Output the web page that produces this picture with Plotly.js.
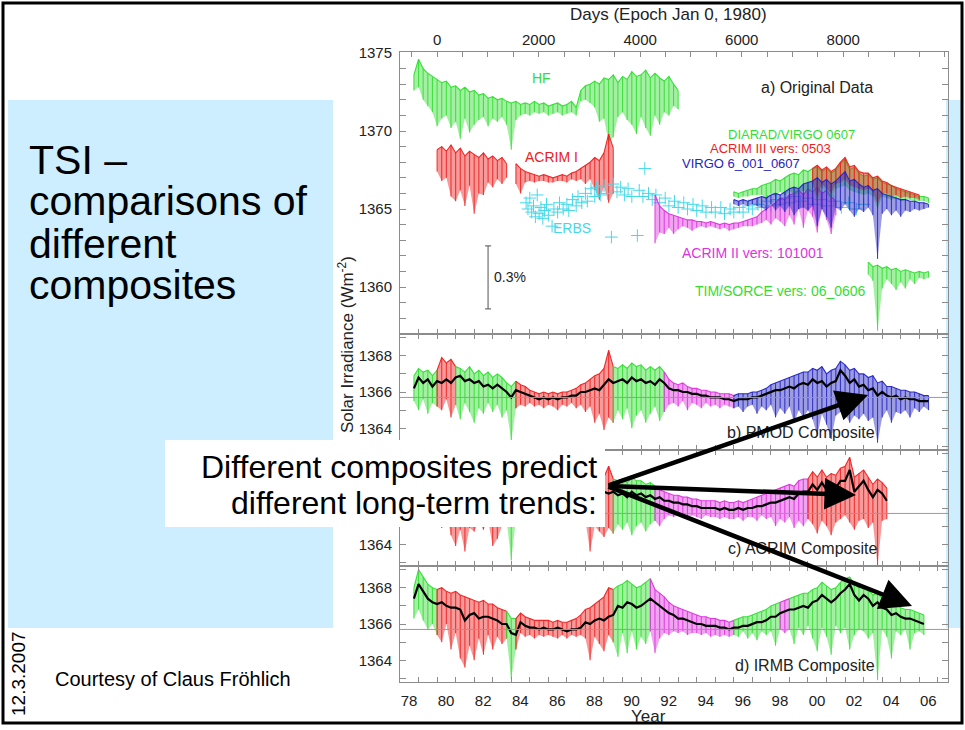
<!DOCTYPE html>
<html><head><meta charset="utf-8">
<script src="https://cdn.plot.ly/plotly-3.0.1.min.js"></script>
<style>html,body{margin:0;padding:0;background:#fff;} #chart{width:965px;height:730px;}</style>
</head><body><div id="chart"></div>
<script>
// ---------------- DATA ----------------
// time grid (fractional years), quarter-year steps
const YEARS = [1978.75,
 1979,1979.25,1979.5,1979.75, 1980,1980.25,1980.5,1980.75, 1981,1981.25,1981.5,1981.75,
 1982,1982.25,1982.5,1982.75, 1983,1983.25,1983.5,1983.75, 1984,1984.25,1984.5,1984.75,
 1985,1985.25,1985.5,1985.75, 1986,1986.25,1986.5,1986.75, 1987,1987.25,1987.5,1987.75,
 1988,1988.25,1988.5,1988.75, 1989,1989.25,1989.5,1989.75, 1990,1990.25,1990.5,1990.75,
 1991,1991.25,1991.5,1991.75, 1992,1992.25,1992.5,1992.75, 1993,1993.25,1993.5,1993.75,
 1994,1994.25,1994.5,1994.75, 1995,1995.25,1995.5,1995.75, 1996,1996.25,1996.5,1996.75,
 1997,1997.25,1997.5,1997.75, 1998,1998.25,1998.5,1998.75, 1999,1999.25,1999.5,1999.75,
 2000,2000.25,2000.5,2000.75, 2001,2001.25,2001.5,2001.75, 2002,2002.25,2002.5,2002.75,
 2003,2003.25,2003.5,2003.75, 2004,2004.25,2004.5,2004.75, 2005,2005.25,2005.5,2005.75,
 2006,2006.25,2006.5];

// tick labels
const YEAR_TICKS = [1978,1979,1980,1981,1982,1983,1984,1985,1986,1987,1988,1989,1990,1991,1992,1993,1994,1995,1996,1997,1998,1999,2000,2001,2002,2003,2004,2005,2006,2007];
const YEAR_LABELS = ['78','','80','','82','','84','','86','','88','','90','','92','','94','','96','','98','','00','','02','','04','','06',''];
const DAY_TICKS = [-500,0,500,1000,1500,2000,2500,3000,3500,4000,4500,5000,5500,6000,6500,7000,7500,8000,8500,9000,9500,10000];
const DAY_LABELS = ['','0','','','','2000','','','','4000','','','','6000','','','','8000','','','',''];
const A_TICKS = [1357,1358,1359,1360,1361,1362,1363,1364,1365,1366,1367,1368,1369,1370,1371,1372,1373,1374,1375];
const A_LABELS = ['','','','1360','','','','','1365','','','','','1370','','','','','1375'];
const C_TICKS = [1363,1364,1365,1366,1367,1368,1369];
const C_LABELS = ['','1364','','1366','','1368',''];
const C_LABELS_HIDDEN = ['','1364','','','','',''];   // panel c: upper labels are covered by the text box

// ---- panel a: original data (upper envelope / lower envelope) ----
const HF_START = 1978.75;
const HF_HI = [1373.6, 1374.6,1374.0,1373.7,1373.5, 1373.3,1373.1,1373.2,1372.8, 1372.9,1372.6,1372.8,1372.5,
 1372.6,1372.3,1372.4,1372.1, 1372.2,1372.0,1372.1,1371.9, 1371.8,1371.9,1371.7,1371.8, 1371.7,1371.9,1371.7,1371.8,
 1371.6,1371.7,1371.8,1371.6, 1371.7,1371.9,1371.5,1372.6, 1372.9,1373.0,1373.2,1373.0, 1373.4,1373.3,1373.6,1373.1,
 1373.5,1373.3,1373.8,1373.5, 1373.6,1373.9,1373.4,1373.7, 1373.4,1373.2,1373.5,1373.0, 1372.6];
const HF_LO = [1372.6, 1372.8,1372.0,1371.6,1371.2, 1370.3,1370.8,1371.0,1370.2, 1370.6,1369.5,1370.8,1369.9,
 1370.4,1370.7,1370.9,1370.3, 1370.8,1370.6,1370.9,1370.4, 1368.8,1370.7,1371.0,1371.1, 1371.0,1371.2,1371.1,1371.2,
 1371.0,1371.1,1371.2,1371.0, 1371.1,1371.2,1371.0,1371.9, 1372.0,1371.8,1371.5,1370.6, 1370.8,1369.3,1369.6,1370.9,
 1371.2,1370.7,1370.4,1369.8, 1370.9,1370.2,1369.7,1371.0, 1370.4,1371.2,1371.0,1371.6, 1371.4];

const ACRIM1A_START = 1980.0;
const ACRIM1A_HI = [1368.8,1369.0,1368.7,1369.1, 1368.6,1368.9,1368.4,1368.7, 1368.5,1368.3,1368.6,1368.2, 1368.4,1368.1,1368.3,1367.9];
const ACRIM1A_LO = [1367.4,1366.8,1367.0,1365.8, 1365.5,1366.2,1365.2,1366.5, 1364.7,1366.0,1365.9,1366.7, 1366.4,1366.9,1366.6,1367.0];
const ACRIM1B_START = 1984.25;
const ACRIM1B_HI = [1367.9,1367.6,1367.4, 1367.3,1367.2,1367.1,1367.2, 1367.1,1367.0,1367.1,1367.2, 1367.1,1367.3,1367.4,1367.6, 1367.8,1368.0,1368.3,1368.1, 1368.6,1369.8,1368.9];
const ACRIM1B_LO = [1366.6,1366.0,1366.7, 1366.8,1366.7,1366.8,1366.8, 1366.7,1366.7,1366.8,1366.8, 1366.7,1366.9,1366.8,1366.9, 1366.6,1366.9,1366.2,1365.6, 1366.4,1365.4,1366.0];

const ERBS_YEAR = [1984.8,1984.9,1985.0,1985.1,1985.2,1985.3,1985.4,1985.5,1985.6,1985.7,1985.8,1985.9,1986.0,1986.2,1986.3,1986.5,1986.6,1986.8,
 1987.0,1987.1,1987.3,1987.5,1987.6,1987.8,1988.0,1988.1,1988.3,1988.5,1988.6,1988.8,1989.0,1989.2,1989.4,1989.5,1989.7,1989.9,
 1990.1,1990.3,1990.5,1990.8,1990.9,1991.1,1991.2,1991.4,1991.6,1991.8,1992.0,1992.3,1992.5,1992.8,1993.0,1993.3,1993.5,1993.8,
 1994.0,1994.3,1994.5,1994.8,1995.0,1995.3,1995.5,1995.8,1996.0,1996.3,1996.5,1996.8,1997.0,1997.3,1997.5,1997.8,1998.0,1998.3,
 1998.5,1998.8,1999.0,1999.3,1999.6,2000.0,2000.3,2000.7,2001.0,2001.4,2001.8,2002.2,2002.6,2003.0];
const ERBS_VAL = [1365.4,1365.0,1365.7,1364.8,1365.2,1364.5,1365.9,1364.7,1365.1,1364.4,1364.9,1365.3,1364.6,1363.9,1365.0,1364.8,1365.4,1365.0,
 1365.3,1364.9,1365.6,1365.2,1365.8,1365.4,1366.0,1365.5,1366.3,1365.8,1366.4,1365.9,1366.5,1366.0,1363.2,1366.6,1366.1,1366.4,
 1365.9,1366.3,1365.8,1363.3,1366.2,1365.8,1367.6,1366.0,1365.6,1365.9,1365.4,1365.7,1365.2,1365.5,1365.1,1365.4,1365.0,1365.3,
 1364.9,1365.2,1364.8,1365.1,1364.8,1365.1,1364.7,1365.0,1364.8,1365.1,1364.8,1365.2,1365.0,1365.3,1365.1,1365.5,1365.2,1365.6,
 1365.3,1365.7,1365.4,1365.8,1365.5,1365.7,1365.3,1365.6,1365.2,1365.5,1365.1,1365.4,1365.0,1365.3];

const ACRIM2_START = 1991.75;
const ACRIM2_HI = [1365.9, 1365.2,1364.9,1364.7,1364.6, 1364.5,1364.4,1364.3,1364.3, 1364.2,1364.2,1364.1,1364.2, 1364.1,1364.0,1364.1,1364.0,
 1364.1,1364.1,1364.2,1364.3, 1364.4,1364.5,1364.8,1365.0, 1365.2,1365.4,1365.7,1365.6, 1365.9,1366.0,1366.2,1365.9, 1366.3,1366.1,1366.4,1366.0, 1366.2,1365.8,1365.5];
const ACRIM2_LO = [1362.8, 1363.5,1363.4,1363.8,1363.4, 1363.7,1363.9,1363.8,1363.6, 1363.8,1363.9,1363.8,1363.9, 1363.8,1363.7,1363.8,1363.6,
 1363.7,1363.8,1363.9,1363.9, 1363.9,1364.0,1364.1,1364.3, 1364.0,1364.4,1364.2,1363.9, 1364.6,1364.0,1365.0,1363.8, 1364.9,1364.5,1363.5,1365.0, 1364.3,1363.4,1364.6];

const DIARAD_START = 1996.0;
const DIARAD_HI = [1366.1,1366.0,1366.1,1366.2, 1366.3,1366.3,1366.5,1366.6, 1366.7,1366.9,1366.8,1367.0, 1367.2,1367.3,1367.2,1367.5,
 1367.4,1367.6,1367.7,1367.4, 1367.6,1367.3,1367.5,1367.9, 1368.2,1367.5,1367.7,1367.3, 1367.1,1367.2,1366.9,1367.0,
 1366.7,1366.6,1366.5,1366.3, 1366.2,1366.1,1366.0,1365.9, 1365.8,1365.8,1365.7];
const DIARAD_LO = [1365.8,1365.7,1365.8,1365.8, 1365.9,1365.9,1365.9,1365.6, 1366.0,1365.8,1366.1,1365.9, 1366.2,1365.9,1366.0,1366.2,
 1366.0,1366.3,1365.5,1366.4, 1366.0,1365.6,1366.3,1366.4, 1366.5,1366.2,1366.1,1366.0, 1365.9,1366.0,1365.8,1365.0,
 1365.8,1365.7,1365.6,1365.7, 1365.5,1365.6,1365.6,1365.5, 1365.5,1365.5,1365.4];

const ACRIM3_START = 2000.25;
const ACRIM3_HI = [1367.6,1367.8,1367.5, 1367.7,1367.4,1367.6,1368.0, 1368.3,1367.7,1367.8,1367.4, 1367.3,1367.3,1367.0,1367.1,
 1366.8,1366.7,1366.5,1366.4, 1366.3,1366.2,1366.1,1366.0, 1365.9];
const ACRIM3_LO = [1366.6,1365.8,1366.6, 1366.3,1366.0,1366.6,1366.7, 1366.9,1366.5,1366.4,1366.3, 1366.2,1366.3,1366.1,1365.3,
 1366.0,1366.0,1365.8,1365.9, 1365.7,1365.8,1365.7,1365.7, 1365.6];

const VIRGO_START = 1996.0;
const VIRGO_HI = [1365.6,1365.5,1365.6,1365.5, 1365.6,1365.7,1365.8,1365.7, 1365.9,1366.0,1365.9,1366.1, 1366.3,1366.4,1366.3,1366.6,
 1366.7,1366.8,1367.0,1366.7, 1366.9,1366.6,1366.8,1367.1, 1367.4,1366.8,1366.9,1366.6, 1366.4,1366.5,1366.2,1366.3,
 1366.0,1365.9,1365.8,1365.7, 1365.6,1365.6,1365.5,1365.5, 1365.4,1365.4,1365.3];
const VIRGO_LO = [1365.3,1365.2,1365.3,1365.2, 1365.3,1365.2,1365.1,1364.9, 1365.3,1364.9,1365.2,1364.8, 1365.2,1364.6,1365.0,1365.1,
 1364.9,1365.2,1363.9,1365.0, 1364.5,1363.8,1365.1,1364.9, 1365.3,1364.9,1364.5,1365.0, 1364.8,1365.1,1364.6,1361.8,
 1364.7,1365.0,1364.6,1364.9, 1364.5,1364.9,1364.8,1365.0, 1364.9,1365.0,1365.1];

const TIM_START = 2003.25;
const TIM_HI = [1361.6,1361.3,1361.4, 1361.2,1361.3,1361.1,1361.2, 1361.0,1361.1,1361.0,1360.9, 1361.0,1360.9,1361.0];
const TIM_LO = [1360.8,1360.4,1357.2, 1359.9,1360.5,1360.2,1359.8, 1360.3,1359.9,1360.5,1360.2, 1360.6,1360.5,1360.6];

// 0.3% scale bar (position in days since Jan 0 1980, low, high)
const SCALE_DAY = 1004, SCALE_LOW = 1358.6, SCALE_HIGH = 1362.63;

// ---- panel b: PMOD composite ----
const PMOD_MEAN = [1366.2,
 1366.8,1366.5,1366.7,1366.3, 1366.6,1366.5,1366.7,1366.5, 1366.8,1366.9,1366.6,1366.7, 1366.5,1366.6,1366.3,1366.4,
 1366.2,1366.4,1366.2,1366.0, 1365.7,1366.1,1366.0,1365.9, 1365.8,1365.7,1365.6,1365.7, 1365.6,1365.7,1365.6,1365.7,
 1365.7,1365.8,1365.8,1366.0, 1366.0,1366.1,1366.2,1366.1, 1366.4,1366.7,1366.5,1366.6, 1366.7,1366.5,1366.8,1366.6,
 1366.7,1366.5,1366.6,1366.4, 1366.7,1366.5,1366.2,1366.1, 1366.1,1366.0,1366.0,1365.9, 1365.9,1365.8,1365.8,1365.7,
 1365.7,1365.7,1365.6,1365.6, 1365.5,1365.6,1365.6,1365.6, 1365.7,1365.7,1365.8,1365.9, 1366.0,1366.1,1366.1,1366.2,
 1366.3,1366.2,1366.4,1366.5, 1366.4,1366.7,1366.5,1366.6, 1366.3,1366.5,1366.6,1367.2, 1366.9,1366.5,1366.7,1366.3,
 1366.4,1366.1,1366.2,1365.8, 1366.0,1365.8,1365.7,1365.8, 1365.6,1365.7,1365.6,1365.6, 1365.5,1365.5,1365.5];
const PMOD_HI = [1366.9,
 1367.3,1367.1,1367.2,1366.9, 1367.2,1367.9,1367.6,1367.8, 1367.4,1367.3,1367.1,1367.4, 1367.0,1367.2,1366.9,1367.1,
 1366.8,1367.0,1366.8,1366.5, 1366.3,1366.6,1366.4,1366.3, 1366.1,1366.0,1365.9,1366.0, 1365.9,1366.0,1365.9,1366.0,
 1366.0,1366.1,1366.2,1366.4, 1366.5,1366.7,1366.9,1367.0, 1367.3,1368.3,1367.4,1367.3, 1367.5,1367.3,1367.6,1367.4,
 1367.5,1367.2,1367.4,1367.2, 1367.4,1367.1,1366.7,1366.5, 1366.4,1366.5,1366.3,1366.2, 1366.2,1366.1,1366.1,1366.0,
 1366.0,1365.9,1365.9,1365.9, 1365.8,1365.9,1365.9,1365.9, 1366.0,1366.0,1366.1,1366.2, 1366.4,1366.5,1366.6,1366.7,
 1366.8,1366.9,1367.0,1367.1, 1367.1,1367.3,1367.2,1367.4, 1367.0,1367.2,1367.3,1367.7, 1367.5,1367.2,1367.3,1367.0,
 1367.0,1366.8,1366.9,1366.5, 1366.6,1366.3,1366.3,1366.2, 1366.1,1366.1,1366.0,1366.0, 1365.9,1365.8,1365.8];
const PMOD_LO = [1365.5,
 1365.0,1365.6,1364.8,1365.4, 1365.2,1365.0,1365.6,1364.6, 1365.3,1364.5,1365.4,1364.9, 1364.3,1365.1,1364.8,1365.4,
 1364.9,1365.3,1364.6,1365.0, 1363.3,1365.1,1365.3,1365.2, 1365.4,1365.2,1365.3,1365.1, 1365.3,1365.2,1365.0,1365.3,
 1365.2,1365.4,1365.1,1365.3, 1364.9,1365.2,1364.3,1364.8, 1363.9,1364.6,1364.3,1365.0, 1364.5,1365.1,1364.0,1364.7,
 1365.0,1364.3,1364.8,1365.2, 1364.4,1364.9,1365.3,1365.4, 1365.2,1365.5,1365.0,1365.4, 1365.3,1365.1,1365.4,1365.2,
 1365.3,1365.1,1365.3,1365.2, 1365.1,1365.2,1364.9,1365.2, 1365.3,1364.8,1365.2,1365.0, 1365.3,1364.6,1365.1,1364.8,
 1365.2,1364.3,1365.0,1364.6, 1365.0,1364.5,1363.6,1364.8, 1364.2,1363.4,1364.7,1364.9, 1364.8,1364.3,1364.7,1364.5,
 1364.8,1364.4,1364.6,1363.2, 1364.6,1365.0,1364.3,1364.9, 1364.8,1365.0,1364.6,1365.1, 1364.9,1365.2,1365.0];
const PMOD_SOURCES = [[1978.75,1980.0,'hf'],[1980.0,1981.0,'acrim1'],[1981.0,1984.25,'hf'],[1984.25,1989.5,'acrim1'],
 [1989.5,1992.25,'hf'],[1992.25,1996.0,'acrim2'],[1996.0,2006.5,'virgo']];

// ---- panel c: ACRIM composite ----
const ACRIMC_MEAN = [1366.6,
 1367.2,1367.0,1366.9,1366.8, 1366.9,1366.8,1366.9,1366.7, 1366.9,1366.8,1366.7,1366.8, 1366.6,1366.7,1366.5,1366.6,
 1366.5,1366.6,1366.4,1366.3, 1366.1,1366.4,1366.3,1366.2, 1366.2,1366.1,1366.1,1366.0, 1366.1,1366.0,1366.1,1366.1,
 1366.2,1366.2,1366.3,1366.4, 1366.5,1366.6,1366.7,1366.6, 1366.9,1366.8,1366.9,1366.7, 1366.8,1366.6,1366.9,1366.7,
 1366.8,1366.6,1366.7,1366.5, 1366.6,1366.4,1366.4,1366.3, 1366.3,1366.2,1366.2,1366.1, 1366.1,1366.0,1366.0,1366.0,
 1366.0,1365.9,1366.0,1365.9, 1365.9,1366.0,1365.9,1366.0, 1366.0,1366.1,1366.1,1366.2, 1366.3,1366.3,1366.4,1366.5,
 1366.6,1366.5,1366.8,1366.9, 1366.9,1367.3,1367.0,1367.4, 1367.0,1367.2,1367.1,1367.5, 1367.5,1368.1,1366.9,1367.2,
 1367.5,1367.0,1366.6,1367.0, 1366.8,1366.4,null,null, null,null,null,null, null,null,null];
const ACRIMC_HI = [1367.2,
 1367.9,1367.6,1367.5,1367.4, 1367.5,1367.6,1367.4,1367.5, 1367.4,1367.5,1367.3,1367.4, 1367.2,1367.3,1367.1,1367.2,
 1367.1,1367.2,1367.0,1366.9, 1366.8,1367.0,1366.8,1366.7, 1366.6,1366.5,1366.5,1366.4, 1366.5,1366.4,1366.5,1366.5,
 1366.6,1366.7,1366.8,1366.9, 1367.1,1367.2,1367.4,1367.3, 1367.7,1368.3,1367.6,1367.5, 1367.6,1367.4,1367.7,1367.5,
 1367.5,1367.3,1367.4,1367.2, 1367.0,1366.9,1366.8,1366.7, 1366.7,1366.6,1366.6,1366.5, 1366.5,1366.4,1366.4,1366.4,
 1366.4,1366.3,1366.4,1366.3, 1366.3,1366.4,1366.3,1366.4, 1366.5,1366.6,1366.7,1366.8, 1366.9,1367.0,1367.1,1367.2,
 1367.3,1367.2,1367.5,1367.6, 1367.6,1368.0,1367.7,1368.1, 1367.7,1367.9,1367.8,1368.2, 1368.3,1368.8,1367.7,1367.9,
 1368.1,1367.7,1367.3,1367.6, 1367.4,1367.1,null,null, null,null,null,null, null,null,null];
const ACRIMC_LO = [1365.6,
 1365.3,1365.8,1365.1,1365.6, 1365.4,1364.9,1365.7,1364.5, 1363.9,1364.8,1363.6,1364.9, 1364.7,1365.2,1364.8,1365.3,
 1363.9,1364.3,1365.0,1365.3, 1363.1,1365.4,1365.3,1365.5, 1365.6,1365.5,1365.6,1365.4, 1365.5,1365.6,1365.3,1365.6,
 1365.5,1365.6,1365.4,1365.6, 1365.3,1363.6,1365.0,1364.7, 1364.4,1364.9,1364.6,1365.1, 1364.8,1365.2,1364.5,1365.0,
 1365.2,1364.7,1365.1,1365.3, 1365.0,1365.4,1365.6,1365.5, 1365.6,1365.5,1365.4,1365.6, 1365.5,1365.4,1365.6,1365.5,
 1365.5,1365.4,1365.5,1365.4, 1365.4,1365.5,1365.3,1365.5, 1365.5,1365.3,1365.6,1365.4, 1365.5,1365.0,1365.4,1365.2,
 1365.5,1364.9,1365.3,1365.0, 1365.4,1365.1,1364.6,1365.3, 1365.0,1364.5,1365.2,1365.4, 1365.6,1365.2,1364.8,1365.3,
 1365.4,1364.9,1365.2,1362.8, 1365.3,1365.4,null,null, null,null,null,null, null,null,null];
const ACRIMC_SOURCES = [[1978.75,1980.0,'hf'],[1980.0,1983.75,'acrim1'],[1983.75,1984.25,'hf'],[1984.25,1989.5,'acrim1'],
 [1989.5,1991.75,'hf'],[1991.75,2000.0,'acrim2'],[2000.0,2004.25,'acrim3']];

// ---- panel d: IRMB composite ----
const IRMB_MEAN = [1367.4,
 1368.2,1367.8,1367.4,1367.2, 1367.1,1367.2,1367.0,1366.9, 1366.9,1366.8,1366.2,1366.5, 1366.6,1366.3,1366.4,1366.4,
 1366.3,1366.2,1366.0,1366.0, 1365.5,1365.4,1366.1,1365.9, 1365.8,1365.8,1365.7,1365.8, 1365.7,1365.7,1365.8,1365.7,
 1365.6,1365.7,1365.7,1365.8, 1366.1,1366.0,1366.2,1366.3, 1366.2,1366.4,1366.5,1367.0, 1366.9,1367.2,1367.1,1366.9,
 1367.0,1367.2,1367.4,1367.2, 1367.0,1366.8,1366.6,1366.5, 1366.3,1366.3,1366.2,1366.1, 1366.0,1366.0,1365.9,1365.9,
 1365.9,1365.8,1365.8,1365.7, 1365.8,1365.8,1365.9,1365.9, 1366.0,1366.1,1366.1,1366.2, 1366.4,1366.4,1366.6,1366.7,
 1366.8,1366.8,1366.9,1367.0, 1366.9,1367.2,1367.3,1367.6, 1367.4,1367.2,1367.4,1367.7, 1367.9,1368.2,1367.6,1367.3,
 1367.6,1367.4,1367.0,1367.2, 1366.9,1366.8,1366.5,1366.6, 1366.4,1366.3,1366.3,1366.2, 1366.1,1366.0,null];
const IRMB_HI = [1368.0,
 1369.0,1368.6,1368.2,1368.0, 1367.9,1368.0,1367.8,1367.7, 1367.8,1367.6,1367.5,1367.4, 1367.3,1367.2,1367.3,1367.1,
 1367.1,1366.9,1366.8,1366.7, 1366.3,1366.3,1366.6,1366.4, 1366.3,1366.2,1366.2,1366.2, 1366.2,1366.1,1366.2,1366.1,
 1366.1,1366.2,1366.3,1366.5, 1366.8,1366.9,1367.1,1367.3, 1367.5,1368.0,1367.9,1368.1, 1368.2,1368.4,1368.2,1368.0,
 1368.1,1368.3,1368.5,1367.9, 1367.7,1367.5,1367.2,1367.0, 1366.9,1366.8,1366.7,1366.6, 1366.5,1366.4,1366.4,1366.3,
 1366.3,1366.2,1366.2,1366.1, 1366.2,1366.3,1366.4,1366.4, 1366.5,1366.6,1366.7,1366.8, 1367.0,1367.1,1367.2,1367.3,
 1367.4,1367.5,1367.6,1367.7, 1367.7,1367.9,1368.0,1368.3, 1368.1,1367.9,1368.0,1368.3, 1368.5,1368.6,1368.2,1368.0,
 1368.1,1367.9,1367.6,1367.7, 1367.4,1367.3,1367.1,1367.1, 1366.9,1366.8,1366.8,1366.7, 1366.6,1366.5,null];
const IRMB_LO = [1366.3,
 1366.8,1366.2,1365.7,1366.0, 1365.4,1365.0,1366.0,1364.6, 1365.5,1364.1,1363.6,1364.8, 1364.0,1365.2,1364.3,1365.4,
 1364.6,1365.3,1364.9,1365.2, 1363.0,1364.6,1365.5,1365.3, 1365.4,1365.2,1365.4,1365.3, 1365.4,1365.3,1365.2,1365.4,
 1365.2,1365.4,1365.3,1365.4, 1365.2,1364.0,1365.3,1364.9, 1364.5,1365.4,1365.0,1364.2, 1365.5,1364.4,1365.6,1364.6,
 1365.3,1364.9,1365.6,1364.4, 1365.2,1365.5,1365.4,1365.6, 1365.5,1365.6,1365.4,1365.5, 1365.5,1365.4,1365.5,1365.3,
 1365.4,1365.3,1365.4,1365.3, 1365.4,1365.3,1365.6,1365.2, 1365.5,1365.1,1365.6,1365.4, 1365.6,1364.8,1365.7,1365.5,
 1365.7,1364.9,1365.8,1365.4, 1365.9,1365.2,1364.5,1365.8, 1365.3,1364.3,1365.9,1365.5, 1365.8,1364.6,1365.4,1365.7,
 1365.6,1365.2,1365.5,1362.9, 1365.7,1365.3,1364.1,1365.6, 1365.4,1365.7,1364.6,1365.5, 1365.6,1365.4,null];
const IRMB_SOURCES = [[1978.75,1980.0,'hf'],[1980.0,1983.75,'acrim1'],[1983.75,1984.25,'hf'],[1984.25,1989.5,'acrim1'],
 [1989.5,1991.5,'hf'],[1991.5,1996.0,'acrim2'],[1996.0,1998.5,'diarad'],[1998.5,1999.0,'acrim2'],[1999.0,2006.25,'diarad']];

const REF_LEVEL = 1365.7;

// ---------------- STYLE ----------------
const COL = {hf:'#33dd33', acrim1:'#ee2020', acrim2:'#dd33dd', acrim3:'#ee2020', virgo:'#2424c0', diarad:'#33dd33', tim:'#33dd33', erbs:'#45d8e8'};
const FRAME = '#8c8c8c';
const FONT = 'Liberation Sans, Arial, Helvetica, sans-serif';
const W = 965, H = 730;
const px = x => x / W, py = y => 1 - y / H;

function rgba(hex, a) {
  const n = parseInt(hex.slice(1), 16);
  return 'rgba(' + ((n >> 16) & 255) + ',' + ((n >> 8) & 255) + ',' + (n & 255) + ',' + a + ')';
}
// a noisy record: filled envelope + one vertical stroke per sample (from its low to its high value)
function band(xs, hi, lo, color, xa, ya) {
  const X = [], YH = [], YL = [], D = [], Z = [];
  for (let i = 0; i < xs.length; i++) {
    if (hi[i] == null || lo[i] == null) continue;
    X.push(xs[i]); YH.push(hi[i]); YL.push(lo[i]); D.push(hi[i] - lo[i]); Z.push(0);
  }
  return [
    {type:'scatter', mode:'lines', x: X.concat(X.slice().reverse()), y: YH.concat(YL.slice().reverse()),
      fill:'toself', fillcolor: rgba(color, 0.45), line:{width:0}, xaxis: xa, yaxis: ya, hoverinfo:'skip', showlegend:false},
    {type:'scatter', mode:'lines', x: X, y: YH, line:{color: rgba(color, 0.95), width:1.1},
      error_y:{type:'data', symmetric:false, array: Z, arrayminus: D, visible:true, width:0, thickness:1.1, color: rgba(color, 0.85)},
      xaxis: xa, yaxis: ya, hoverinfo:'skip', showlegend:false}
  ];
}
function series(start, hi, lo, color, xa, ya) {
  const i0 = YEARS.indexOf(start);
  return band(YEARS.slice(i0, i0 + hi.length), hi, lo, color, xa, ya);
}
function composite(hi, lo, mean, sources, xa, ya) {
  let out = [];
  sources.forEach(s => {
    const xs = [], h = [], l = [];
    YEARS.forEach((yr, i) => { if (yr >= s[0] && yr <= s[1]) { xs.push(yr); h.push(hi[i]); l.push(lo[i]); } });
    out = out.concat(band(xs, h, l, COL[s[2]], xa, ya));
  });
  out.push({type:'scatter', mode:'lines', x: YEARS, y: mean, line:{color:'#000', width:2.2}, connectgaps:false,
    xaxis: xa, yaxis: ya, hoverinfo:'skip', showlegend:false});
  return out;
}

let traces = [];
traces = traces.concat(series(HF_START, HF_HI, HF_LO, COL.hf, 'x', 'y'));
traces = traces.concat(series(ACRIM1A_START, ACRIM1A_HI, ACRIM1A_LO, COL.acrim1, 'x', 'y'));
traces = traces.concat(series(ACRIM1B_START, ACRIM1B_HI, ACRIM1B_LO, COL.acrim1, 'x', 'y'));
traces.push({type:'scatter', mode:'markers', x: ERBS_YEAR, y: ERBS_VAL, xaxis:'x', yaxis:'y',
  marker:{symbol:'cross-thin', size:9, line:{width:1, color: COL.erbs}, color: COL.erbs}, hoverinfo:'skip', showlegend:false});
traces = traces.concat(series(ACRIM2_START, ACRIM2_HI, ACRIM2_LO, COL.acrim2, 'x', 'y'));
traces = traces.concat(series(DIARAD_START, DIARAD_HI, DIARAD_LO, COL.diarad, 'x', 'y'));
traces = traces.concat(series(ACRIM3_START, ACRIM3_HI, ACRIM3_LO, COL.acrim3, 'x', 'y'));
traces = traces.concat(series(VIRGO_START, VIRGO_HI, VIRGO_LO, COL.virgo, 'x', 'y'));
traces = traces.concat(series(TIM_START, TIM_HI, TIM_LO, COL.tim, 'x', 'y'));
// scale bar lives on the day axis (top), so that axis is drawn
traces.push({type:'scatter', mode:'markers', x:[SCALE_DAY], y:[(SCALE_LOW + SCALE_HIGH) / 2], xaxis:'x5', yaxis:'y',
  marker:{size:1, color:'rgba(0,0,0,0)'},
  error_y:{type:'data', array:[(SCALE_HIGH - SCALE_LOW) / 2], visible:true, color:'#707070', thickness:1.2, width:3},
  hoverinfo:'skip', showlegend:false});
traces = traces.concat(composite(PMOD_HI, PMOD_LO, PMOD_MEAN, PMOD_SOURCES, 'x2', 'y2'));
traces = traces.concat(composite(ACRIMC_HI, ACRIMC_LO, ACRIMC_MEAN, ACRIMC_SOURCES, 'x3', 'y3'));
traces = traces.concat(composite(IRMB_HI, IRMB_LO, IRMB_MEAN, IRMB_SOURCES, 'x4', 'y4'));

const TICKFONT = {family: FONT, size: 15, color: '#222'};
function xax(anchor, extra) {
  return Object.assign({domain:[px(400), px(948)], range:[1978.0, 2007.55], anchor: anchor,
    showline:true, linecolor:FRAME, linewidth:1, mirror:'ticks', ticks:'inside', ticklen:5, tickwidth:1, tickcolor:FRAME,
    tickmode:'array', tickvals:YEAR_TICKS, ticktext:YEAR_LABELS, showticklabels:false,
    showgrid:false, zeroline:false, fixedrange:true, tickfont:TICKFONT}, extra || {});
}
function yax(anchor, dom, range, tv, tt) {
  return {domain: dom, range: range, anchor: anchor, showline:true, linecolor:FRAME, linewidth:1, mirror:'ticks',
    ticks:'inside', ticklen:6, tickwidth:1, tickcolor:FRAME, tickmode:'array', tickvals: tv, ticktext: tt,
    showgrid:false, zeroline:false, fixedrange:true, tickfont:TICKFONT, ticklabelstandoff:4};
}

const layout = {
  width: W, height: H, margin:{l:0, r:0, t:0, b:0}, paper_bgcolor:'#fff', plot_bgcolor:'#fff', showlegend:false,
  font:{family: FONT, color:'#222'},
  xaxis: xax('y', {mirror:true}),
  xaxis2: xax('y2'),
  xaxis3: xax('y3'),
  xaxis4: xax('y4', {showticklabels:true, ticklabelshift:9, ticklabelstandoff:5}),
  xaxis5: {overlaying:'x', side:'top', anchor:'y', range:[(1978.0 - 1980) * 365.25, (2007.55 - 1980) * 365.25],
    tickmode:'array', tickvals: DAY_TICKS, ticktext: DAY_LABELS, ticks:'inside', ticklen:5, tickcolor:FRAME,
    showline:false, showgrid:false, zeroline:false, fixedrange:true, tickfont:TICKFONT, ticklabelstandoff:3},
  yaxis: yax('x', [py(334), py(52)], [1375 - (334 - 53) / 15.6, 1375 + 1 / 15.6], A_TICKS, A_LABELS),
  yaxis2: yax('x2', [py(450), py(334)], [1362.8, 1369.2], C_TICKS, C_LABELS),
  yaxis3: yax('x3', [py(566), py(450)], [1362.8, 1369.2], C_TICKS, C_LABELS_HIDDEN),
  yaxis4: yax('x4', [py(682), py(566)], [1362.8, 1369.2], C_TICKS, C_LABELS),
  shapes: [
    {type:'rect', xref:'paper', yref:'paper', x0:px(8), x1:px(333), y0:py(628), y1:py(100), fillcolor:'#cceeff', line:{width:0}, layer:'below'},
    {type:'rect', xref:'paper', yref:'paper', x0:px(946), x1:px(961), y0:py(628), y1:py(100), fillcolor:'#cceeff', line:{width:0}, layer:'below'},
    {type:'line', xref:'x2 domain', yref:'y2', x0:0, x1:1, y0:REF_LEVEL, y1:REF_LEVEL, line:{color:'#999', width:1}},
    {type:'line', xref:'x3 domain', yref:'y3', x0:0, x1:1, y0:REF_LEVEL, y1:REF_LEVEL, line:{color:'#999', width:1}},
    {type:'line', xref:'x4 domain', yref:'y4', x0:0, x1:1, y0:REF_LEVEL, y1:REF_LEVEL, line:{color:'#999', width:1}},
    {type:'rect', xref:'paper', yref:'paper', x0:px(165), x1:px(605), y0:py(527), y1:py(440), fillcolor:'#fff', line:{width:0}, layer:'above'},
    {type:'rect', xref:'paper', yref:'paper', x0:px(3), x1:px(962), y0:py(723), y1:py(3), line:{color:'#000', width:3}, layer:'above'}
  ],
  annotations: []
};

function txt(t, x, y, opts) {
  layout.annotations.push(Object.assign({text: t, xref:'paper', yref:'paper', x: px(x), y: py(y), showarrow:false,
    xanchor:'left', yanchor:'middle', borderpad:0, font:{family: FONT, size: 15, color:'#222'}}, opts || {}));
}
const f = (size, color) => ({family: FONT, size: size, color: color || '#222'});
// slide text
txt('TSI –', 28, 160, {font: f(41, '#000')});
txt('comparisons of', 28, 201, {font: f(41, '#000')});
txt('different', 28, 244, {font: f(41, '#000')});
txt('composites', 28, 285, {font: f(41, '#000')});
txt('Courtesy of Claus Fröhlich', 54, 679, {font: f(20, '#000')});
txt('12.3.2007', 18, 674, {xanchor:'center', textangle:-90, font: f(19, '#000')});
txt('Different composites predict', 598, 467, {xanchor:'right', font: f(32, '#000')});
txt('different long-term trends:', 598, 503, {xanchor:'right', font: f(32, '#000')});
// chart text
txt('Days (Epoch Jan 0, 1980)', 668, 14, {xanchor:'center', font: f(17)});
txt('Year', 648, 716, {xanchor:'center', font: f(17)});
txt('Solar Irradiance (Wm<sup>-2</sup>)', 346, 345, {xanchor:'center', textangle:-90, font: f(17)});
txt('a) Original Data', 874, 87, {xanchor:'right', font: f(16)});
txt('b) PMOD Composite', 876, 432, {xanchor:'right', font: f(16)});
txt('c) ACRIM Composite', 878, 548, {xanchor:'right', font: f(16)});
txt('d) IRMB Composite', 876, 665, {xanchor:'right', font: f(16)});
txt('HF', 541, 78, {xanchor:'center', font: f(14, COL.hf)});
txt('ACRIM I', 551, 157, {xanchor:'center', font: f(14, COL.acrim1)});
txt('ERBS', 572, 228, {xanchor:'center', font: f(14, COL.erbs)});
txt('DIARAD/VIRGO 0607', 727, 134, {font: f(13, COL.diarad)});
txt('ACRIM III vers: 0503', 709, 148.5, {font: f(13, COL.acrim3)});
txt('VIRGO 6_001_0607', 681, 163, {font: f(13, COL.virgo)});
txt('ACRIM II vers: 101001', 681, 253, {font: f(14, COL.acrim2)});
txt('TIM/SORCE vers: 06_0606', 694, 291, {font: f(14, COL.tim)});
txt('0.3%', 493, 277, {font: f(14)});
// arrows (tail at the text box, heads on the three composites)
const TAIL = [607, 486];
[[868, 395], [856, 495], [912, 606]].forEach(h => {
  layout.annotations.push({text:'', xref:'paper', yref:'paper', x: px(h[0]), y: py(h[1]),
    axref:'pixel', ayref:'pixel', ax: TAIL[0] - h[0], ay: TAIL[1] - h[1],
    showarrow:true, arrowhead:2, arrowsize:1.4, arrowwidth:4.5, arrowcolor:'#000', standoff:0, startstandoff:0});
});

Plotly.newPlot('chart', traces, layout, {staticPlot:true, displayModeBar:false});
</script></body></html>
